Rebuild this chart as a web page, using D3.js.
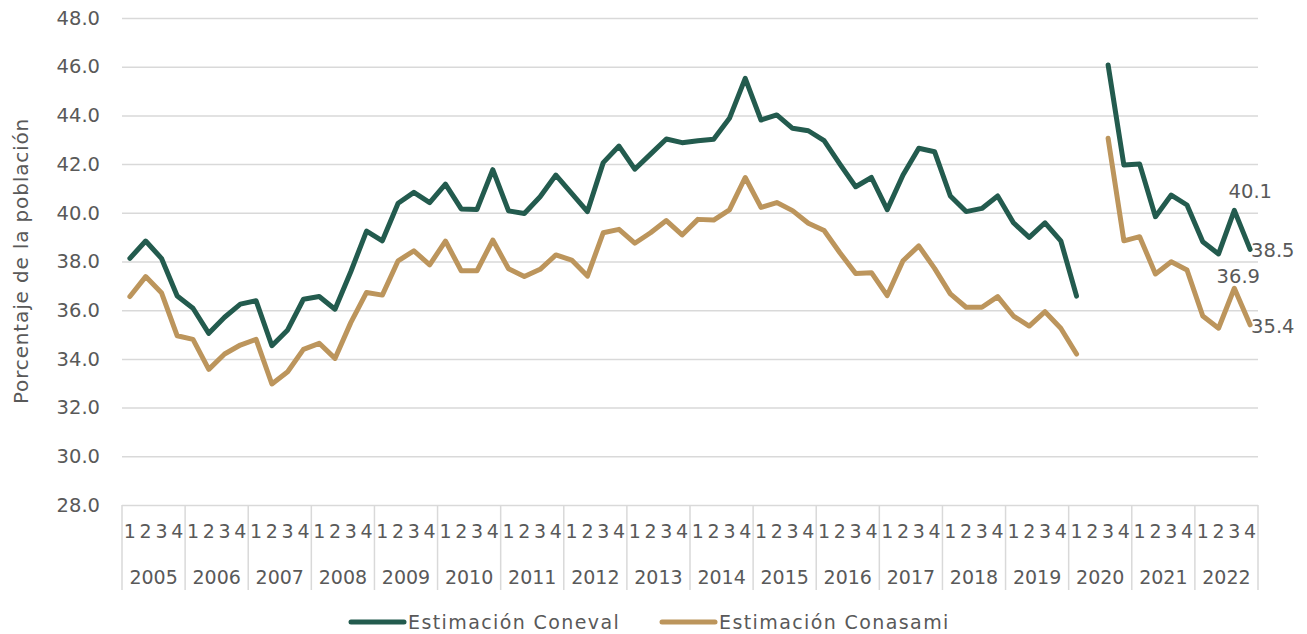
<!DOCTYPE html>
<html>
<head>
<meta charset="utf-8">
<script src="https://cdn.jsdelivr.net/npm/d3@7"></script>
<style>
  body { margin: 0; background: #fff; }
  text { font-family: "DejaVu Sans", sans-serif; fill: #595959; }
</style>
</head>
<body>
<div id="chart"></div>
<script>
// Data
var years = ["2005", "2006", "2007", "2008", "2009", "2010", "2011", "2012", "2013",
             "2014", "2015", "2016", "2017", "2018", "2019", "2020", "2021", "2022"];
var quarterLabels = ["1", "2", "3", "4"];
var yTicks = [28, 30, 32, 34, 36, 38, 40, 42, 44, 46, 48];
var seriesNames = ["Estimación Coneval", "Estimación Conasami"];

var coneval = [
    38.13, 38.84, 38.13, 36.58,
    36.08, 35.05, 35.71, 36.25,
    36.39, 34.54, 35.19, 36.45,
    36.56, 36.04, 37.58, 39.25,
    38.85, 40.39, 40.84, 40.42,
    41.18, 40.16, 40.14, 41.77,
    40.08, 39.97, 40.66, 41.55,
    40.80, 40.05, 42.06, 42.74,
    41.79, 42.41, 43.03, 42.88,
    42.96, 43.02, 43.88, 45.52,
    43.81, 44.02, 43.47, 43.37,
    42.96, 42.00, 41.07, 41.45,
    40.13, 41.55, 42.65, 42.51,
    40.69, 40.05, 40.18, 40.69,
    39.59, 38.99, 39.59, 38.85,
    36.58, null, 46.07, 41.96,
    42.00, 39.84, 40.73, 40.32,
    38.81, 38.31, 40.1, 38.5
];
var conasami = [
    36.56, 37.38, 36.72, 34.95,
    34.80, 33.57, 34.20, 34.57,
    34.80, 32.97, 33.47, 34.39,
    34.64, 34.02, 35.49, 36.73,
    36.62, 38.03, 38.44, 37.86,
    38.84, 37.62, 37.62, 38.88,
    37.70, 37.38, 37.68, 38.27,
    38.06, 37.40, 39.18, 39.32,
    38.75, 39.18, 39.68, 39.09,
    39.73, 39.70, 40.12, 41.45,
    40.22, 40.42, 40.09, 39.57,
    39.27, 38.36, 37.51, 37.54,
    36.60, 38.03, 38.64, 37.72,
    36.67, 36.12, 36.12, 36.56,
    35.76, 35.35, 35.94, 35.26,
    34.20, null, 43.06, 38.85,
    39.02, 37.49, 37.99, 37.65,
    35.76, 35.26, 36.9, 35.4
];

function visualize() {
    var W = 1307, H = 634;
    var left = 122, right = 1258, top = 18, bottom = 505;
    var colors = ["#235b4e", "#bc955c"];

    var svg = d3.select("#chart").append("svg")
        .attr("width", W)
        .attr("height", H);

    // quarter keys, e.g. "2005-1"
    var keys = [];
    years.forEach(function(yr) {
        quarterLabels.forEach(function(q) { keys.push(yr + "-" + q); });
    });

    var x = d3.scaleBand().domain(keys).range([left, right]);
    var xYear = d3.scaleBand().domain(years).range([left, right]);
    var y = d3.scaleLinear().domain([28, 48]).range([bottom, top]);

    // Y axis with gridlines
    var yAxis = svg.append("g")
        .attr("transform", "translate(" + left + ",0)")
        .call(d3.axisLeft(y)
            .tickValues(yTicks)
            .tickFormat(d3.format(".1f"))
            .tickSize(-(right - left))
            .tickPadding(22));
    yAxis.select(".domain").remove();
    yAxis.selectAll(".tick line").attr("stroke", "#d9d9d9").attr("stroke-width", 1.5);
    yAxis.selectAll(".tick text")
        .style("font-size", "19.5px")
        .style("font-family", "DejaVu Sans, sans-serif")
        .attr("fill", "#595959");

    // Y axis title
    svg.append("text")
        .attr("transform", "translate(28,261) rotate(-90)")
        .attr("text-anchor", "middle")
        .style("font-size", "20px")
        .style("letter-spacing", "0.85px")
        .text("Porcentaje de la población");

    // Quarter tick labels
    var qAxis = svg.append("g")
        .attr("transform", "translate(0," + bottom + ")")
        .call(d3.axisBottom(x)
            .tickSize(0)
            .tickPadding(20)
            .tickFormat(function(d) { return d.split("-")[1]; }));
    qAxis.select(".domain").remove();
    qAxis.selectAll("text")
        .style("font-size", "19px")
        .style("font-family", "DejaVu Sans, sans-serif")
        .attr("fill", "#595959");

    // Year tick labels
    var yrAxis = svg.append("g")
        .attr("transform", "translate(0," + bottom + ")")
        .call(d3.axisBottom(xYear).tickSize(0).tickPadding(66));
    yrAxis.select(".domain").remove();
    yrAxis.selectAll("text")
        .style("font-size", "19px")
        .style("font-family", "DejaVu Sans, sans-serif")
        .attr("fill", "#595959");

    // Year separators
    var bounds = years.map(function(yr) { return xYear(yr); }).concat([right]);
    svg.selectAll("line.sep")
        .data(bounds)
        .enter()
        .append("line")
        .attr("class", "sep")
        .attr("x1", function(d) { return d; })
        .attr("x2", function(d) { return d; })
        .attr("y1", bottom)
        .attr("y2", 590)
        .attr("stroke", "#d9d9d9")
        .attr("stroke-width", 1.5);

    // Lines
    var dataReady = [coneval, conasami].map(function(vals, i) {
        return {
            name: seriesNames[i],
            color: colors[i],
            values: vals.map(function(v, j) { return { key: keys[j], value: v }; })
        };
    });

    var line = d3.line()
        .defined(function(d) { return d.value !== null; })
        .x(function(d) { return x(d.key) + x.bandwidth() / 2; })
        .y(function(d) { return y(d.value); });

    svg.selectAll("path.series")
        .data(dataReady)
        .enter()
        .append("path")
        .attr("class", "series")
        .attr("d", function(d) { return line(d.values); })
        .attr("stroke", function(d) { return d.color; })
        .attr("stroke-width", 5)
        .attr("stroke-linejoin", "round")
        .attr("stroke-linecap", "round")
        .attr("fill", "none");

    // Data labels on the last two points
    var labelSpecs = [
        { s: 0, idx: 70, dx: 16, dy: -12, anchor: "middle" },
        { s: 0, idx: 71, dx: 1, dy: 8, anchor: "start" },
        { s: 1, idx: 70, dx: 4, dy: -5, anchor: "middle" },
        { s: 1, idx: 71, dx: 1, dy: 8, anchor: "start" }
    ];
    svg.selectAll("text.dlabel")
        .data(labelSpecs)
        .enter()
        .append("text")
        .attr("class", "dlabel")
        .attr("x", function(d) { return x(keys[d.idx]) + x.bandwidth() / 2 + d.dx; })
        .attr("y", function(d) { return y(dataReady[d.s].values[d.idx].value) + d.dy; })
        .attr("text-anchor", function(d) { return d.anchor; })
        .style("font-size", "19.5px")
        .text(function(d) { return d3.format(".1f")(dataReady[d.s].values[d.idx].value); });

    // Legend
    var legendX = [349, 660];
    var legend = svg.selectAll("g.legend")
        .data(dataReady)
        .enter()
        .append("g")
        .attr("class", "legend")
        .attr("transform", function(d, i) { return "translate(" + legendX[i] + ",622)"; });
    legend.append("line")
        .attr("x1", 2).attr("x2", 55)
        .attr("stroke", function(d) { return d.color; })
        .attr("stroke-width", 5)
        .attr("stroke-linecap", "round");
    legend.append("text")
        .attr("x", 59)
        .attr("y", 7)
        .style("font-size", "19px")
        .style("letter-spacing", "1.4px")
        .text(function(d) { return d.name; });
}

visualize();
</script>
</body>
</html>
